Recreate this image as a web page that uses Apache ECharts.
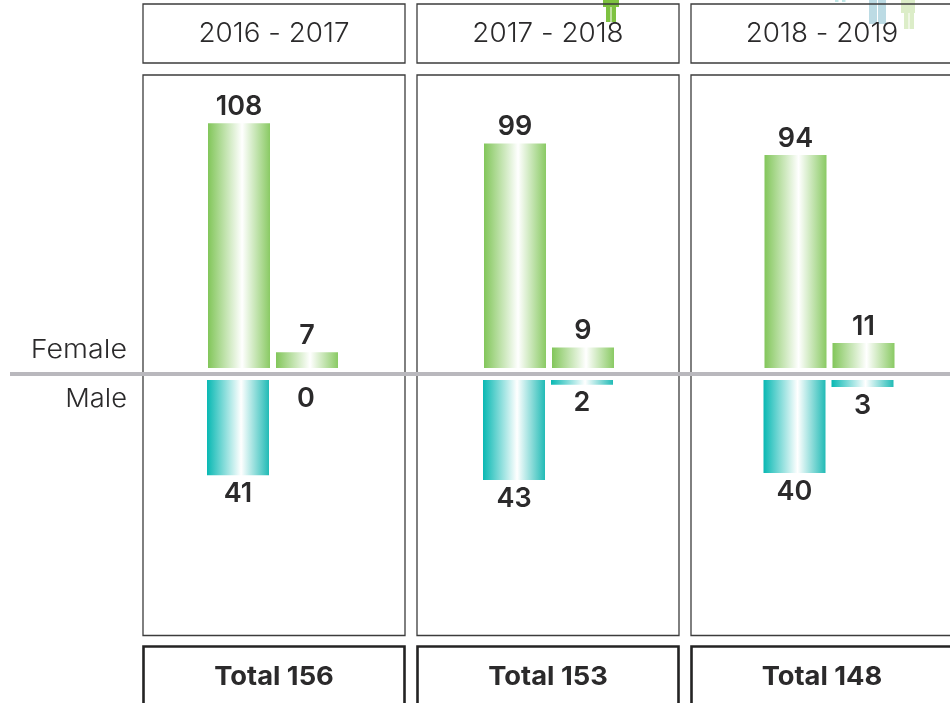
<!DOCTYPE html>
<html><head><meta charset="utf-8">
<style>html,body{margin:0;padding:0;background:#fff;overflow:hidden}#c{width:950px;height:703px}</style>
<script src="https://cdn.jsdelivr.net/npm/echarts@6/dist/echarts.min.js"></script>
</head><body><div id="c"></div>
<script>
const periods = ['2016 - 2017', '2017 - 2018', '2018 - 2019'];
const columns = ['Group A', 'Group B'];
const femaleFirst = [108, 99, 94];
const femaleSecond = [7, 9, 11];
const maleFirst = [41, 43, 40];
const maleSecond = [0, 2, 3];
const totals = ['Total 156', 'Total 153', 'Total 148'];
const sideLabels = ['Female', 'Male'];

const FONT = 'Inter, "Open Sans", sans-serif';
const panelLeft = [143, 417, 691];
const panelW = 262;
const femaleCol1Centre = [239, 515, 795.5];
const maleCol1Centre = [238, 514, 794.5];
const INK = '#2b2a2b';

function grad(edgeL, edgeR) {
  return { type: 'linear', x: 0, y: 0, x2: 1, y2: 0, colorStops: [
    { offset: 0, color: edgeL }, { offset: 0.55, color: '#ffffff' }, { offset: 1, color: edgeR }
  ]};
}
const green = grad('#82c65a', '#8aca64');
const teal = grad('#08b8b3', '#22bbb6');

const grids = [], xAxes = [], yAxes = [], series = [];
periods.forEach((p, i) => {
  const rows = [
    { vals: [femaleFirst[i], femaleSecond[i]], cx: femaleCol1Centre[i], top: 96, h: 272, max: 120, inv: false, col: green, pos: 'top', dist: 3, name: 'Female' },
    { vals: [maleFirst[i], maleSecond[i]], cx: maleCol1Centre[i], top: 380, h: 232.6, max: 100, inv: true, col: teal, pos: 'bottom', dist: 5, name: 'Male' }
  ];
  rows.forEach(r => {
    const idx = grids.length;
    grids.push({ left: r.cx - 34, width: 136, top: r.top, height: r.h, show: false, containLabel: false });
    xAxes.push({ type: 'category', gridIndex: idx, data: columns, show: false });
    yAxes.push({ type: 'value', gridIndex: idx, min: 0, max: r.max, inverse: r.inv, show: false });
    series.push({
      type: 'bar', name: r.name + ' ' + p, xAxisIndex: idx, yAxisIndex: idx, data: r.vals,
      barWidth: 62, itemStyle: { color: r.col }, z: 3, silent: true,
      label: { show: true, position: r.pos, distance: r.dist, fontFamily: FONT, fontSize: 27, fontWeight: 600, color: INK }
    });
  });
});

const graphic = [];
const box = (x, y, w, h, lw, stroke, fill, z) => graphic.push({ type: 'rect', shape: { x: x + .5, y: y + .5, width: w, height: h },
  style: { fill, stroke, lineWidth: lw }, z, silent: true });
const label = (x, y, text, size, weight, align, sx) => graphic.push({ type: 'text', x, y, scaleX: sx,
  style: { text, fontFamily: FONT, fontSize: size, fontWeight: weight, fill: INK, align, verticalAlign: 'middle' }, z: 6, silent: true });

panelLeft.forEach((x, i) => {
  box(x - .5, 3.5, panelW, 59, 0, null, '#fff', 1);
  box(x - .5, 3.5, panelW, 59, 1.3, '#3c3c3c', 'transparent', 3);
  box(x - .5, 74.5, panelW, 560.5, 1.3, '#3c3c3c', '#fff', 1);
  box(x, 646, panelW - 1, 70, 2.6, '#242323', '#fff', 1);
  label(x + panelW / 2, 34, periods[i], 26.5, 300, 'center', 1.05);
  label(x + panelW / 2, 677, totals[i], 26, 700, 'center', 1.05);
});
label(127, 350, sideLabels[0], 26, 300, 'right', 1.1);
label(127, 399, sideLabels[1], 26, 300, 'right', 1.05);
graphic.push({ type: 'rect', shape: { x: 10, y: 372, width: 940, height: 4 }, style: { fill: '#b9b8bd' }, z: 5, silent: true });

// Partial pictograms cropped by the top of the page
const icon = (x, y, w, h, fill) => graphic.push({ type: 'rect', shape: { x, y, width: w, height: h }, style: { fill }, z: 2, silent: true });
icon(603, 0, 16, 7, '#7ec241'); icon(606, 0, 4.5, 22, '#7ec241'); icon(611.5, 0, 4.5, 22, '#7ec241');
icon(835, 0, 3.5, 2, '#bfe6e6'); icon(842, 0, 3.5, 2, '#bfe6e6');
icon(869, 0, 8, 24, '#bcdbe4'); icon(878, 0, 8, 24, '#bcdbe4');
icon(901, 0, 14, 13, '#dcedc8'); icon(904, 0, 4.5, 29, '#dcedc8'); icon(909.5, 0, 4.5, 29, '#dcedc8');

const chart = echarts.init(document.getElementById('c'), null, { renderer: 'canvas' });
chart.setOption({ animation: false, backgroundColor: '#fff', grid: grids, xAxis: xAxes, yAxis: yAxes, series, graphic });
</script></body></html>
